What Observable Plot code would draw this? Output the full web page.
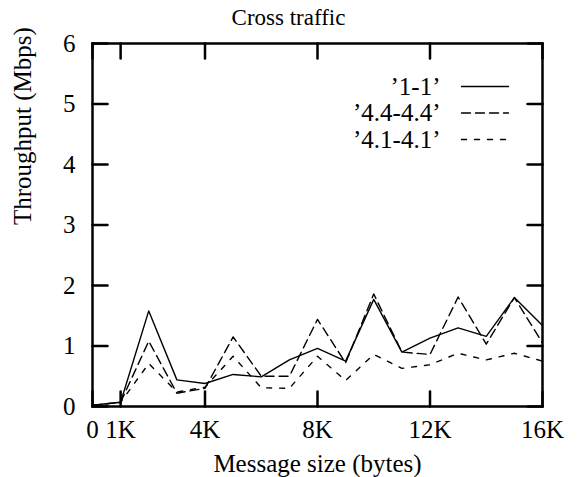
<!DOCTYPE html>
<html>
<head>
<meta charset="utf-8">
<script src="https://cdn.jsdelivr.net/npm/d3@7"></script>
<script src="https://cdn.jsdelivr.net/npm/@observablehq/plot@0.6"></script>
<style>
  html, body { margin: 0; padding: 0; background: #fff; }
  #chart { width: 577px; height: 477px; }
</style>
</head>
<body>
<div id="chart"></div>
<script>
// Message sizes in kilobytes
const sizesK = [0, 1, 2, 3, 4, 5, 6, 7, 8, 9, 10, 11, 12, 13, 14, 15, 16];

// Throughput (Mbps) for each configuration
const tput11 = [0.02, 0.07, 1.58, 0.44, 0.38, 0.53, 0.49, 0.77, 0.96, 0.75, 1.77, 0.90, 1.13, 1.30, 1.16, 1.80, 1.34];
const tput44 = [0.02, 0.07, 1.08, 0.22, 0.30, 1.15, 0.50, 0.50, 1.44, 0.72, 1.86, 0.90, 0.86, 1.81, 1.03, 1.80, 1.05];
const tput41 = [0.02, 0.07, 0.71, 0.24, 0.32, 0.83, 0.31, 0.30, 0.83, 0.43, 0.86, 0.63, 0.69, 0.88, 0.77, 0.88, 0.75];

const seriesNames = ["1-1", "4.4-4.4", "4.1-4.1"];
const seriesValues = [tput11, tput44, tput41];
const seriesDash = [null, "9,5", "5,8"];

const xTicks = [0, 1, 4, 8, 12, 16];
const yTicks = [0, 1, 2, 3, 4, 5, 6];

const rows = seriesNames.map((name, s) =>
  sizesK.map((x, i) => ({series: name, x, y: seriesValues[s][i]}))
);

// plain line used for inward ticks and legend samples
const stroke = {draw(context, l) { context.moveTo(0, 0); context.lineTo(0, -l); }};

const font = "Liberation Serif, Times New Roman, serif";
const tickLen = 15;
const fs = 25;

const marks = [
  // inward ticks on all four sides
  Plot.vector(xTicks, {x: d => d, frameAnchor: "bottom", rotate: 0, length: tickLen, anchor: "start", shape: stroke, stroke: "black", strokeWidth: 2.5}),
  Plot.vector(xTicks, {x: d => d, frameAnchor: "top", rotate: 180, length: tickLen, anchor: "start", shape: stroke, stroke: "black", strokeWidth: 2.5}),
  Plot.vector(yTicks, {y: d => d, frameAnchor: "left", rotate: 90, length: tickLen, anchor: "start", shape: stroke, stroke: "black", strokeWidth: 2.5}),
  Plot.vector(yTicks, {y: d => d, frameAnchor: "right", rotate: -90, length: tickLen, anchor: "start", shape: stroke, stroke: "black", strokeWidth: 2.5}),

  Plot.axisX({ticks: xTicks, tickFormat: d => d === 0 ? "0" : d + "K", tickSize: 0, tickPadding: 14, fontSize: fs, fill: "black"}),
  Plot.axisY({ticks: yTicks, tickFormat: d => String(d), tickSize: 0, tickPadding: 17, fontSize: fs, fill: "black"}),

  // data lines
  ...rows.map((r, s) => Plot.line(r, {x: "x", y: "y", stroke: "black", strokeWidth: 1.4, strokeDasharray: seriesDash[s]})),

  // legend
  ...seriesNames.map((name, s) => Plot.text([name], {
    text: d => "\u2019" + d + "\u2019", frameAnchor: "top-right", dx: -102, dy: 43 + 26.5 * s,
    textAnchor: "end", lineAnchor: "middle", fontSize: fs, fill: "black"
  })),
  ...seriesNames.map((name, s) => Plot.vector([name], {
    frameAnchor: "top-right", dx: -81, dy: 43 + 26.5 * s, rotate: 90, length: 47, anchor: "start",
    shape: stroke, stroke: "black", strokeWidth: 1.4, strokeDasharray: seriesDash[s]
  })),

  // titles
  Plot.text(["Cross traffic"], {frameAnchor: "top", dx: -29, dy: -26, lineAnchor: "middle", fontSize: 23, fill: "black"}),
  Plot.text(["Message size (bytes)"], {frameAnchor: "bottom", dy: 57, lineAnchor: "middle", fontSize: fs, fill: "black"}),
  Plot.text(["Throughput (Mbps)"], {frameAnchor: "left", dx: -70, rotate: -90, lineAnchor: "middle", fontSize: fs, fill: "black"}),

  Plot.frame({stroke: "black", strokeWidth: 2.5})
];

const chart = Plot.plot({
  width: 577,
  height: 477,
  marginLeft: 92,
  marginRight: 35,
  marginTop: 43,
  marginBottom: 71,
  style: {fontFamily: font, fontSize: "25px", color: "black", background: "white"},
  x: {domain: [0, 16], label: null},
  y: {domain: [0, 6], label: null},
  marks
});

document.getElementById("chart").appendChild(chart);
</script>
</body>
</html>
